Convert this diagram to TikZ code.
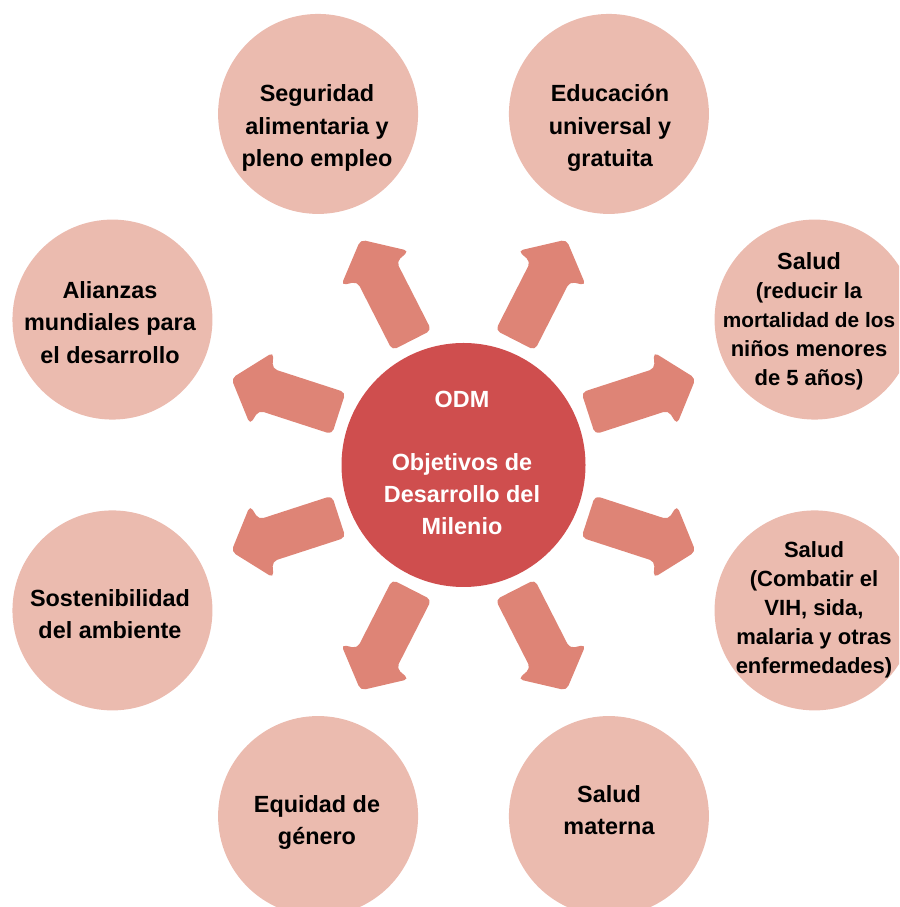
\documentclass[tikz,border=0pt]{standalone}
\usepackage{fontspec}
\setmainfont{Liberation Sans}
\usetikzlibrary{calc}
\definecolor{odmred}{RGB}{207,78,78}
\definecolor{arrowred}{RGB}{222,132,118}
\definecolor{goalpink}{RGB}{235,187,175}
\begin{document}
\begin{tikzpicture}[x=1pt,y=1pt,
  goal/.style={circle, fill=goalpink, minimum size=200pt, inner sep=0pt},
  hub/.style={circle, fill=odmred, minimum size=244pt, inner sep=0pt},
  goaltext/.style={align=center, inner sep=0pt, text=black, font=\bfseries\fontsize{23.4}{32.5}\selectfont},
  saludtext/.style={align=center, inner sep=0pt, text=black, font=\bfseries\fontsize{22}{29}\selectfont},
  hubtext/.style={align=center, inner sep=0pt, text=white, font=\bfseries\fontsize{23.4}{32}\selectfont},
  blockarrow/.style={fill=arrowred, rounded corners=5pt}]
\useasboundingbox (0,0) rectangle (899,907);
\clip (0,0) rectangle (899,907);
\coordinate (C) at (463.5,442);
% goal circles
\node[goal] (g1) at ($(C)+(112.5:380)$) {};
\node[goal] (g2) at ($(C)+(67.5:380)$) {};
\node[goal] (g3) at ($(C)+(22.5:380)$) {};
\node[goal] (g4) at ($(C)+(-22.5:380)$) {};
\node[goal] (g5) at ($(C)+(-67.5:380)$) {};
\node[goal] (g6) at ($(C)+(-112.5:380)$) {};
\node[goal] (g7) at ($(C)+(-157.5:380)$) {};
\node[goal] (g8) at ($(C)+(157.5:380)$) {};
% hub
\node[hub] (hub) at (C) {};
% block arrows
\foreach \t/\p in {22.5/18, 67.5/63, 112.5/117, 157.5/162, 202.5/198, 247.5/243, 292.5/297, 337.5/342} {
  \fill[blockarrow, shift={($(C)+(\t:135)$)}, rotate=\p]
    (0,-22) -- (77,-22) -- (81,-38) -- (113,0) -- (81,38) -- (77,22) -- (0,22) -- cycle;
}
% texts
\node[goaltext] (t1) at (317,778.7) {Seguridad\\alimentaria y\\pleno empleo};
\node[goaltext] (t2) at (610,778.7) {Educación\\universal y\\gratuita};
\node[saludtext] (t3) at (809,586) {{\fontsize{23.4}{29}\selectfont Salud}\\(reducir la\\{\fontsize{20.8}{29}\selectfont mortalidad de los}\\niños menores\\de 5 años)};
\node[saludtext] (t4) at (814,297.5) {Salud\\(Combatir el\\VIH, sida,\\malaria y otras\\enfermedades)};
\node[goaltext] (t5) at (609,97) {Salud\\materna};
\node[goaltext] (t6) at (317,84.7) {Equidad de\\género};
\node[goaltext] (t7) at (110,293) {Sostenibilidad\\del ambiente};
\node[goaltext] (t8) at (110,584.5) {Alianzas\\mundiales para\\el desarrollo};
\node[hubtext] (th) at (462,443.7) {ODM\\[31pt]Objetivos de\\Desarrollo del\\Milenio};
\end{tikzpicture}
\end{document}
